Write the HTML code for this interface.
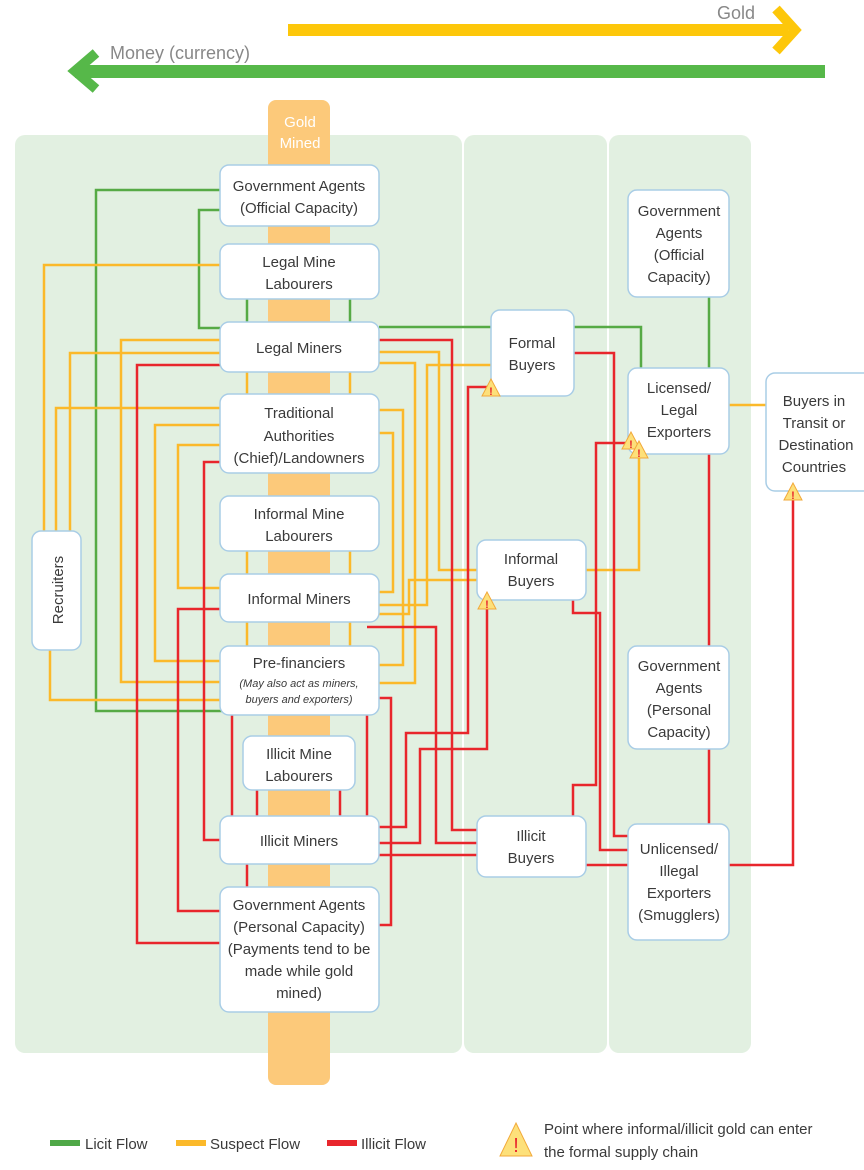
<!DOCTYPE html>
<html><head><meta charset="utf-8"><style>
html,body{margin:0;padding:0;background:#fff;}
svg{display:block;}
text{font-family:"Liberation Sans",sans-serif;fill:#3a3a3a;}
</style></head><body>
<svg width="864" height="1170" viewBox="0 0 864 1170" xmlns="http://www.w3.org/2000/svg">
<rect x="15" y="135" width="447" height="918" rx="10" fill="#e2f0e1"/>
<rect x="464" y="135" width="143" height="918" rx="10" fill="#e2f0e1"/>
<rect x="609" y="135" width="142" height="918" rx="10" fill="#e2f0e1"/>
<rect x="268" y="100" width="62" height="985" rx="8" fill="#fcc97a"/>
<text x="300" y="127" font-size="15" text-anchor="middle" style="fill:#fff">Gold</text>
<text x="300" y="148" font-size="15" text-anchor="middle" style="fill:#fff">Mined</text>

<rect x="288" y="24" width="500" height="12" fill="#fdc70a"/>
<polyline points="776,9 795,30 776,51" fill="none" stroke="#fdc70a" stroke-width="10"/>
<text x="755" y="19" font-size="18" text-anchor="end" style="fill:#888">Gold</text>
<rect x="75" y="65" width="750" height="13" fill="#56b849"/>
<polyline points="96,53 75,71 96,89" fill="none" stroke="#56b849" stroke-width="10"/>
<text x="110" y="59" font-size="18" style="fill:#888">Money (currency)</text>

<g fill="none" stroke-width="2.5">
<g stroke="#56aa45">
<polyline points="220,190 96,190 96,711 222,711"/>
<polyline points="220,210 199,210 199,328 220,328"/>
<line x1="247" y1="299" x2="247" y2="322"/><line x1="350" y1="299" x2="350" y2="322"/>
<polyline points="379,327 641,327 641,368"/>
<line x1="709" y1="297" x2="709" y2="368"/>
</g>
<g stroke="#fbb92a">
<polyline points="220,265 44,265 44,531"/>
<polyline points="220,408 56,408 56,531"/>
<polyline points="220,353 70,353 70,531"/>
<polyline points="50,650 50,700 220,700"/>
<polyline points="220,340 121,340 121,682 220,682"/>
<polyline points="220,425 155,425 155,661 220,661"/>
<polyline points="220,445 178,445 178,588 220,588"/>
<line x1="247" y1="372" x2="247" y2="394"/><line x1="350" y1="372" x2="350" y2="394"/>
<line x1="247" y1="551" x2="247" y2="574"/><line x1="350" y1="551" x2="350" y2="574"/>
<line x1="247" y1="622" x2="247" y2="646"/><line x1="350" y1="622" x2="350" y2="646"/>
<polyline points="379,352 439,352 439,570 477,570"/>
<polyline points="379,363 415,363 415,683 379,683"/>
<polyline points="491,365 427,365 427,605 379,605"/>
<polyline points="379,410 403,410 403,665 379,665"/>
<polyline points="379,433 393,433 393,592 379,592"/>
<polyline points="379,614 409,614 409,580 477,580"/>
<polyline points="586,570 639,570 639,454"/>
<line x1="729" y1="405" x2="766" y2="405"/>
</g>
<g stroke="#e8262c">
<polyline points="220,365 137,365 137,943 220,943"/>
<polyline points="220,609 178,609 178,911 220,911"/>
<polyline points="220,462 204,462 204,840 220,840"/>
<line x1="232" y1="715" x2="232" y2="816"/><line x1="367" y1="715" x2="367" y2="816"/>
<line x1="257" y1="790" x2="257" y2="816"/><line x1="340" y1="790" x2="340" y2="816"/>
<line x1="247" y1="864" x2="247" y2="887"/>
<polyline points="379,340 452,340 452,830 477,830"/>
<polyline points="367,627 436,627 436,843 477,843"/>
<polyline points="379,698 391,698 391,925 379,925"/>
<polyline points="379,827 406,827 406,733 468,733 468,387 491,387"/>
<polyline points="379,843 420,843 420,749 487,749 487,600"/>
<line x1="379" y1="855" x2="477" y2="855"/>
<line x1="586" y1="865" x2="628" y2="865"/>
<polyline points="573,816 573,785 596,785 596,443 628,443"/>
<polyline points="573,600 573,613 600,613 600,850 628,850"/>
<polyline points="574,353 614,353 614,836 628,836"/>
<line x1="709" y1="454" x2="709" y2="646"/>
<line x1="709" y1="749" x2="709" y2="824"/>
<polyline points="729,865 793,865 793,491"/>
</g>
</g>

<g fill="#fff" stroke="#a9cde6" stroke-width="1.5">
<rect x="220" y="165" width="159" height="61" rx="9"/>
<rect x="220" y="244" width="159" height="55" rx="9"/>
<rect x="220" y="322" width="159" height="50" rx="9"/>
<rect x="220" y="394" width="159" height="79" rx="9"/>
<rect x="220" y="496" width="159" height="55" rx="9"/>
<rect x="220" y="574" width="159" height="48" rx="9"/>
<rect x="220" y="646" width="159" height="69" rx="9"/>
<rect x="243" y="736" width="112" height="54" rx="9"/>
<rect x="220" y="816" width="159" height="48" rx="9"/>
<rect x="220" y="887" width="159" height="125" rx="9"/>
<rect x="32" y="531" width="49" height="119" rx="9"/>
<rect x="491" y="310" width="83" height="86" rx="9"/>
<rect x="477" y="540" width="109" height="60" rx="9"/>
<rect x="477" y="816" width="109" height="61" rx="9"/>
<rect x="628" y="190" width="101" height="107" rx="9"/>
<rect x="628" y="368" width="101" height="86" rx="9"/>
<rect x="628" y="646" width="101" height="103" rx="9"/>
<rect x="628" y="824" width="101" height="116" rx="9"/>
<rect x="766" y="373" width="110" height="118" rx="9"/>
</g>

<g font-size="15" text-anchor="middle">
<text x="299" y="191">Government Agents</text><text x="299" y="213">(Official Capacity)</text>
<text x="299" y="267">Legal Mine</text><text x="299" y="289">Labourers</text>
<text x="299" y="353">Legal Miners</text>
<text x="299" y="418">Traditional</text><text x="299" y="441">Authorities</text><text x="299" y="463">(Chief)/Landowners</text>
<text x="299" y="519">Informal Mine</text><text x="299" y="541">Labourers</text>
<text x="299" y="604">Informal Miners</text>
<text x="299" y="668">Pre-financiers</text>
<text x="299" y="687" font-size="11" font-style="italic">(May also act as miners,</text>
<text x="299" y="703" font-size="11" font-style="italic">buyers and exporters)</text>
<text x="299" y="759">Illicit Mine</text><text x="299" y="781">Labourers</text>
<text x="299" y="846">Illicit Miners</text>
<text x="299" y="910">Government Agents</text><text x="299" y="932">(Personal Capacity)</text><text x="299" y="954">(Payments tend to be</text><text x="299" y="976">made while gold</text><text x="299" y="998">mined)</text>
<text x="63" y="590" transform="rotate(-90 63 590)">Recruiters</text>
<text x="532" y="348">Formal</text><text x="532" y="370">Buyers</text>
<text x="531" y="564">Informal</text><text x="531" y="586">Buyers</text>
<text x="531" y="841">Illicit</text><text x="531" y="863">Buyers</text>
<text x="679" y="216">Government</text><text x="679" y="238">Agents</text><text x="679" y="260">(Official</text><text x="679" y="282">Capacity)</text>
<text x="679" y="393">Licensed/</text><text x="679" y="415">Legal</text><text x="679" y="437">Exporters</text>
<text x="679" y="671">Government</text><text x="679" y="693">Agents</text><text x="679" y="715">(Personal</text><text x="679" y="737">Capacity)</text>
<text x="679" y="854">Unlicensed/</text><text x="679" y="876">Illegal</text><text x="679" y="898">Exporters</text><text x="679" y="920">(Smugglers)</text>
<text x="814" y="406">Buyers in</text><text x="814" y="428">Transit or</text><text x="816" y="450">Destination</text><text x="814" y="472">Countries</text>
</g>

<g stroke="#f2a93a" stroke-width="1" fill="#fde07a">
<path d="M491,379 L500,396 L482,396 Z"/>
<path d="M487,592 L496,609 L478,609 Z"/>
<path d="M631,432 L640,449 L622,449 Z"/>
<path d="M639,441 L648,458 L630,458 Z"/>
<path d="M793,483 L802,500 L784,500 Z"/>
<path d="M516,1123 L532,1156 L500,1156 Z"/>
</g>
<g font-size="11" font-weight="bold" text-anchor="middle">
<text x="491" y="395" style="fill:#e8262c">!</text>
<text x="487" y="608" style="fill:#e8262c">!</text>
<text x="631" y="448" style="fill:#e8262c">!</text>
<text x="639" y="457" style="fill:#e8262c">!</text>
<text x="793" y="499" style="fill:#e8262c">!</text>
<text x="516" y="1152" font-size="20" font-weight="normal" style="fill:#e8262c">!</text>
</g>

<rect x="50" y="1140" width="30" height="6" fill="#4fa847"/>
<text x="85" y="1149" font-size="15">Licit Flow</text>
<rect x="176" y="1140" width="30" height="6" fill="#fbb92a"/>
<text x="210" y="1149" font-size="15">Suspect Flow</text>
<rect x="327" y="1140" width="30" height="6" fill="#e8262c"/>
<text x="361" y="1149" font-size="15">Illicit Flow</text>
<text x="544" y="1134" font-size="15">Point where informal/illicit gold can enter</text>
<text x="544" y="1157" font-size="15">the formal supply chain</text>
</svg>
</body></html>
